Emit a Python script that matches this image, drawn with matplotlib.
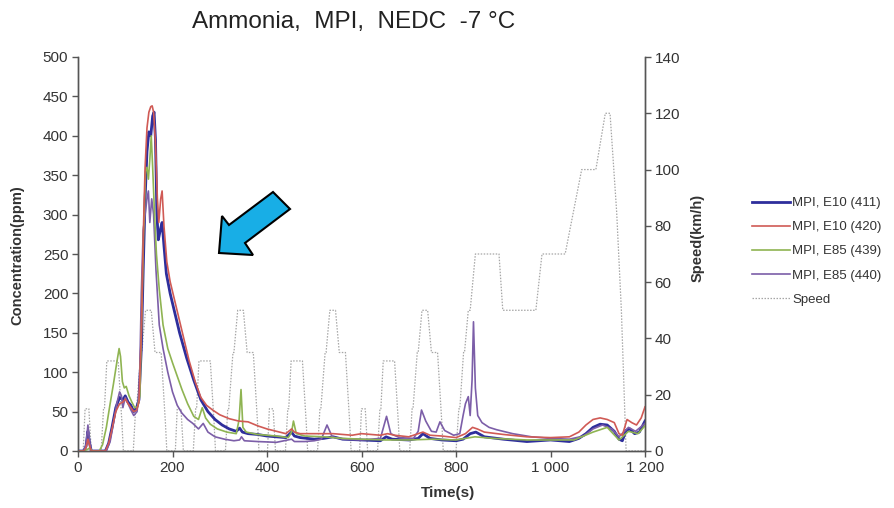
import matplotlib
matplotlib.use("Agg")
import matplotlib.pyplot as plt
from matplotlib.patches import Polygon

plt.rcParams['font.family'] = ['Liberation Sans', 'DejaVu Sans']

# ---------------- data ----------------
# MPI, E10 (411)
t_411 = [0, 12, 17, 21, 24, 28, 33, 45, 58, 65, 72, 80, 88, 95, 100, 106, 112, 118, 124, 129,
         134, 138, 142, 146, 150, 154, 158, 161, 164, 167, 170, 174, 178, 182, 187, 195, 205,
         215, 230, 245, 260, 275, 290, 305, 320, 335, 342, 348, 360, 380, 400, 420, 440, 452,
         458, 470, 500, 520, 540, 560, 600, 640, 652, 665, 700, 720, 730, 745, 770, 800, 815,
         830, 842, 860, 900, 950, 1000, 1040, 1060, 1075, 1090, 1105, 1120, 1135, 1145, 1152,
         1160, 1168, 1178, 1188, 1200]
c_411 = [0, 0, 6, 25, 12, 0, 0, 0, 0, 10, 30, 55, 68, 65, 70, 62, 58, 50, 55, 65,
         130, 230, 320, 380, 405, 400, 425, 430, 395, 300, 268, 280, 290, 260, 225, 200, 175,
         150, 118, 90, 65, 50, 40, 33, 28, 25, 29, 24, 22, 21, 19, 18, 17, 24,
         19, 17, 15, 16, 18, 15, 14, 13, 18, 15, 14, 16, 22, 16, 14, 13, 15,
         22, 24, 18, 15, 12, 14, 12, 16, 22, 30, 34, 33, 25, 15, 13,
         26, 28, 22, 24, 38]

# MPI, E10 (420)
t_420 = [0, 12, 17, 21, 24, 28, 33, 45, 58, 65, 72, 80, 88, 95, 100, 106, 112, 118, 124, 129,
         134, 138, 142, 146, 150, 154, 157, 160, 164, 168, 171, 175, 178, 182, 188, 195, 205,
         215, 225, 235, 248, 260, 272, 285, 300, 320, 340, 360, 380, 400, 420, 440, 452, 458,
         470, 500, 540, 580, 600, 640, 655, 670, 700, 730, 745, 770, 800, 820, 835, 845, 860,
         900, 950, 1000, 1040, 1060, 1075, 1090, 1105, 1120, 1135, 1145, 1152, 1162, 1172,
         1182, 1192, 1200]
c_420 = [0, 0, 4, 15, 8, 0, 0, 0, 0, 10, 28, 50, 60, 62, 66, 60, 55, 50, 52, 62,
         150, 270, 360, 410, 430, 437, 438, 430, 390, 320, 290, 320, 330, 285, 240, 215, 190,
         165, 140, 115, 88, 68, 58, 52, 46, 41, 38, 37, 32, 28, 25, 22, 28, 24,
         22, 22, 22, 20, 22, 20, 22, 20, 18, 24, 20, 19, 17, 22, 30, 28, 24,
         21, 18, 17, 18, 24, 33, 40, 42, 40, 36, 22, 20, 40, 36,
         33, 42, 56]

# MPI, E85 (439)
t_439 = [0, 12, 20, 25, 30, 45, 52, 60, 68, 75, 82, 87, 90, 94, 98, 102, 108, 114, 120, 126,
         131, 135, 139, 143, 146, 149, 152, 155, 158, 162, 166, 172, 180, 190, 200, 210, 220,
         232, 245, 255, 263, 270, 280, 295, 315, 335, 341, 345, 349, 356, 380, 420, 445, 452,
         456, 462, 480, 520, 560, 600, 650, 700, 750, 800, 840, 880, 950, 1000, 1050, 1090,
         1120, 1145, 1165, 1185, 1200]
c_439 = [0, 0, 2, 4, 0, 0, 8, 30, 60, 85, 112, 130, 120, 88, 80, 82, 70, 62, 55, 56,
         70, 170, 280, 355, 360, 345, 370, 400, 360, 300, 250, 205, 160, 130, 112, 95, 78,
         60, 44, 40, 55, 42, 34, 28, 24, 22, 40, 78, 30, 24, 21, 19, 17, 24,
         38, 22, 19, 18, 16, 15, 14, 14, 15, 14, 18, 16, 14, 14, 14, 24,
         30, 14, 25, 22, 32]

# MPI, E85 (440)
t_440 = [0, 12, 17, 21, 24, 28, 33, 45, 60, 68, 75, 82, 88, 92, 95, 100, 106, 112, 118, 125,
         130, 134, 138, 142, 146, 149, 152, 156, 160, 165, 172, 180, 190, 200, 210, 220, 232,
         243, 255, 265, 275, 290, 310, 330, 342, 346, 352, 380, 420, 452, 458, 480, 500, 515,
         527, 538, 560, 600, 640, 653, 662, 680, 710, 720, 727, 736, 748, 758, 766, 776, 795,
         808, 815, 820, 826, 830, 834, 837, 841, 846, 855, 870, 886, 920, 960, 1000, 1040,
         1070, 1090, 1110, 1130, 1145, 1165, 1180, 1200]
c_440 = [0, 0, 8, 33, 15, 0, 0, 0, 0, 12, 35, 60, 75, 70, 55, 68, 60, 52, 45, 50,
         80, 200, 280, 300, 320, 330, 290, 320, 300, 230, 160, 130, 100, 75, 58, 48, 40,
         35, 28, 35, 24, 18, 15, 13, 14, 18, 13, 12, 11, 15, 12, 12, 13, 15,
         33, 18, 15, 14, 16, 44, 22, 17, 16, 25, 52, 38, 25, 24, 37, 26, 20,
         22, 45, 60, 69, 45, 90, 164, 80, 45, 36, 30, 27, 22, 18, 16, 15,
         19, 28, 33, 28, 18, 30, 25, 35]

# NEDC speed profile (km/h)
t_speed = [0, 11, 15, 23, 28, 49, 54, 56, 61, 85, 93, 96, 117, 122, 124, 133, 135, 143, 155, 163, 176, 185, 188,
           195, 206, 210, 218, 223, 244, 249, 251, 256, 280, 288, 291, 312, 317, 319, 328, 330, 338, 350, 358, 371, 380, 383,
           390, 401, 405, 413, 418, 439, 444, 446, 451, 475, 483, 486, 507, 512, 514, 523, 525, 533, 545, 553, 566, 575, 578,
           585, 596, 600, 608, 613, 634, 639, 641, 646, 670, 678, 681, 702, 707, 709, 718, 720, 728, 740, 748, 761, 770, 773,
           780, 800, 806, 808, 816, 818, 826, 830, 841, 891, 899, 969, 982, 1031, 1066, 1096, 1116, 1126, 1140, 1150, 1160, 1180, 1200]
v_speed = [0, 0, 15, 15, 0, 0, 15, 15, 32, 32, 10, 0, 0, 15, 15, 35, 35, 50, 50, 35, 35, 10, 0,
           0, 0, 15, 15, 0, 0, 15, 15, 32, 32, 10, 0, 0, 15, 15, 35, 35, 50, 50, 35, 35, 10, 0,
           0, 0, 15, 15, 0, 0, 15, 15, 32, 32, 10, 0, 0, 15, 15, 35, 35, 50, 50, 35, 35, 10, 0,
           0, 0, 15, 15, 0, 0, 15, 15, 32, 32, 10, 0, 0, 15, 15, 35, 35, 50, 50, 35, 35, 10, 0,
           0, 0, 15, 15, 35, 35, 50, 50, 70, 70, 50, 50, 70, 70, 100, 100, 120, 120, 85, 50, 0, 0, 0]

x_ticks = [0, 200, 400, 600, 800, 1000, 1200]
x_ticklabels = ['0', '200', '400', '600', '800', '1 000', '1 200']
y_ticks = [0, 50, 100, 150, 200, 250, 300, 350, 400, 450, 500]
y2_ticks = [0, 20, 40, 60, 80, 100, 120, 140]

labels = ['MPI, E10 (411)', 'MPI, E10 (420)', 'MPI, E85 (439)', 'MPI, E85 (440)', 'Speed']

# ---------------- figure ----------------
W, H = 895, 508
fig = plt.figure(figsize=(W / 100, H / 100), dpi=100)
L, R, B, T = 78, 645, 451, 57
ax = fig.add_axes([L / W, 1 - B / H, (R - L) / W, (B - T) / H])
ax2 = ax.twinx()

txt = '#333333'
spine_c = '#555555'

ln_speed, = ax2.plot(t_speed, v_speed, color='#a6a6a6', lw=0.9, ls=(0, (1.2, 1.2)), zorder=1)
ax.set_zorder(ax2.get_zorder() + 1)
ax.patch.set_visible(False)

ln411, = ax.plot(t_411, c_411, color='#2e2e9c', lw=2.0)
ln440, = ax.plot(t_440, c_440, color='#7c5ea8', lw=1.2)
ln439, = ax.plot(t_439, c_439, color='#8fb452', lw=1.2)
ln420, = ax.plot(t_420, c_420, color='#d05a55', lw=1.2)

ax.set_xlim(0, 1200)
ax.set_ylim(0, 500)
ax2.set_ylim(0, 140)
ax.set_xticks(x_ticks)
ax.set_xticklabels(x_ticklabels)
ax.set_yticks(y_ticks)
ax2.set_yticks(y2_ticks)

for a in (ax, ax2):
    a.spines['top'].set_visible(False)
    for s in ('left', 'right', 'bottom'):
        a.spines[s].set_color(spine_c)
        a.spines[s].set_linewidth(1.0)
    a.tick_params(direction='out', length=4, width=1, color=spine_c,
                  labelsize=11, labelcolor=txt, pad=3)

fig.text(354 / W, 1 - 22 / H, 'Ammonia,  MPI,  NEDC  -7 °C', ha='center', va='center',
         fontsize=17.5, color='#222222')
fig.text(17 / W, 1 - 255 / H, 'Concentration(ppm)', rotation=90, ha='center', va='center',
         fontsize=10.5, fontweight='bold', color=txt)
fig.text(698 / W, 1 - 238 / H, 'Speed(km/h)', rotation=90, ha='center', va='center',
         fontsize=10.5, fontweight='bold', color=txt)
fig.text(448 / W, 1 - 493 / H, 'Time(s)', ha='center', va='center',
         fontsize=11, fontweight='bold', color=txt)

leg = fig.legend([ln411, ln420, ln439, ln440, ln_speed], labels,
                 loc='upper left', bbox_to_anchor=(752 / W, 1 - 197 / H),
                 frameon=False, fontsize=9.5, handlelength=2.85, handletextpad=0.2,
                 labelspacing=0.9, borderaxespad=0, borderpad=0)
for t in leg.get_texts():
    t.set_color(txt)

# blue arrow annotation (figure pixel coordinates)
arrow_px = [(219, 253), (222, 216), (229, 225), (273, 192), (290, 209), (245, 243), (253, 255)]
arrow = Polygon([(x / W, 1 - y / H) for x, y in arrow_px], closed=True,
                transform=fig.transFigure, facecolor='#18aee6', edgecolor='black', lw=1.5, zorder=10)
fig.patches.append(arrow)

fig.savefig('out.png', dpi=100)
